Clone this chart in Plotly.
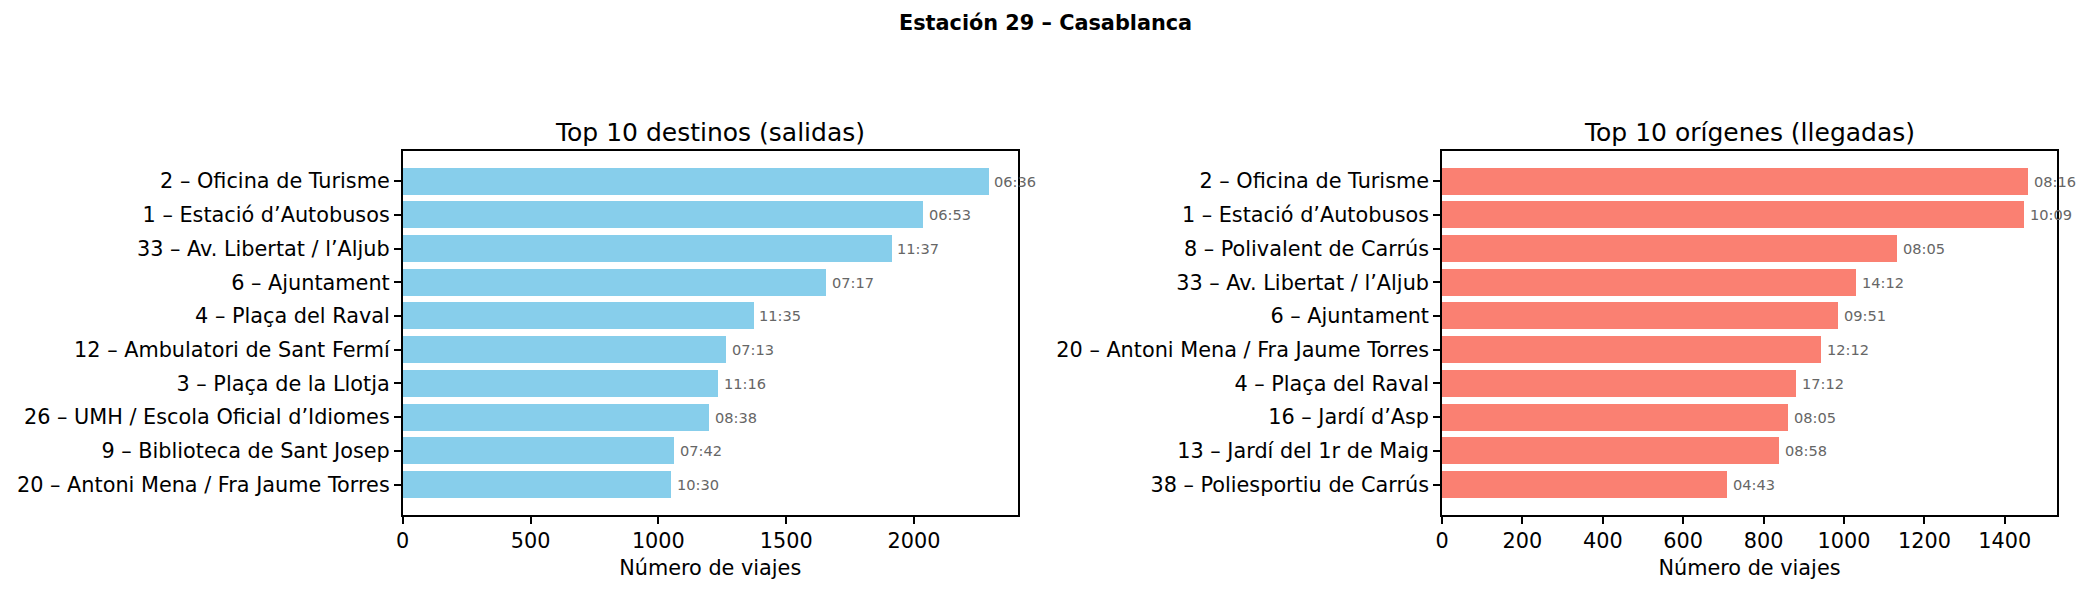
import plotly.graph_objects as go

W, H = 2090, 594

suptitle = "Estación 29 – Casablanca"
title_left = "Top 10 destinos (salidas)"
title_right = "Top 10 orígenes (llegadas)"
xlabel = "Número de viajes"

dest_names = [
    "2 – Oficina de Turisme",
    "1 – Estació d’Autobusos",
    "33 – Av. Libertat / l’Aljub",
    "6 – Ajuntament",
    "4 – Plaça del Raval",
    "12 – Ambulatori de Sant Fermí",
    "3 – Plaça de la Llotja",
    "26 – UMH / Escola Oficial d’Idiomes",
    "9 – Biblioteca de Sant Josep",
    "20 – Antoni Mena / Fra Jaume Torres",
]
dest_counts = [2291, 2034, 1911, 1654, 1372, 1263, 1232, 1198, 1060, 1049]
dest_times = ["06:36", "06:53", "11:37", "07:17", "11:35", "07:13", "11:16", "08:38", "07:42", "10:30"]

orig_names = [
    "2 – Oficina de Turisme",
    "1 – Estació d’Autobusos",
    "8 – Polivalent de Carrús",
    "33 – Av. Libertat / l’Aljub",
    "6 – Ajuntament",
    "20 – Antoni Mena / Fra Jaume Torres",
    "4 – Plaça del Raval",
    "16 – Jardí d’Asp",
    "13 – Jardí del 1r de Maig",
    "38 – Poliesportiu de Carrús",
]
orig_counts = [1457, 1448, 1132, 1030, 986, 943, 881, 861, 838, 709]
orig_times = ["08:16", "10:09", "08:05", "14:12", "09:51", "12:12", "17:12", "08:05", "08:58", "04:43"]

FONT = "DejaVu Sans"
px_x = lambda p: p / W
px_y = lambda p: 1 - p / H

fig = go.Figure()
fig.add_trace(go.Bar(x=dest_counts, y=dest_names, orientation="h", width=0.8,
                     marker=dict(color="#87CEEB", line=dict(width=0)),
                     xaxis="x", yaxis="y", hoverinfo="skip", showlegend=False))
fig.add_trace(go.Bar(x=orig_counts, y=orig_names, orientation="h", width=0.8,
                     marker=dict(color="#FA8072", line=dict(width=0)),
                     xaxis="x2", yaxis="y2", hoverinfo="skip", showlegend=False))

annotations = []
for names, counts, times, xr, yr in [(dest_names, dest_counts, dest_times, "x", "y"),
                                      (orig_names, orig_counts, orig_times, "x2", "y2")]:
    for n, c, t in zip(names, counts, times):
        annotations.append(dict(x=c, y=n, xref=xr, yref=yr, text=t, showarrow=False,
                                xanchor="left", yanchor="middle", xshift=4,
                                font=dict(family=FONT, size=14.6, color="#666666")))

axis_common = dict(showline=True, mirror=True, linecolor="black", linewidth=1.6,
                   ticks="outside", ticklen=7, tickwidth=1.6, tickcolor="black",
                   showgrid=False, zeroline=False,
                   tickfont=dict(family=FONT, size=20.8, color="black"))

left_dom = [px_x(402.7), px_x(1017.7)]
right_dom = [px_x(1442), px_x(2057)]
y_dom = [px_y(514.7), px_y(151)]

fig.update_layout(
    width=W, height=H,
    margin=dict(l=0, r=0, t=0, b=0),
    paper_bgcolor="white", plot_bgcolor="white",
    bargap=0,
    font=dict(family=FONT, color="black"),
    xaxis=dict(domain=left_dom, anchor="y", range=[0, max(dest_counts) * 1.05],
               tickmode="linear", tick0=0, dtick=500, automargin=False,
               title=dict(text=xlabel, font=dict(family=FONT, size=20.8, color="black"), standoff=8),
               **axis_common),
    yaxis=dict(domain=y_dom, anchor="x", type="category",
               range=[len(dest_names) - 1 + 0.89, -0.89], automargin=False, **axis_common),
    xaxis2=dict(domain=right_dom, anchor="y2", range=[0, max(orig_counts) * 1.05],
                tickmode="linear", tick0=0, dtick=200, automargin=False,
                title=dict(text=xlabel, font=dict(family=FONT, size=20.8, color="black"), standoff=8),
                **axis_common),
    yaxis2=dict(domain=y_dom, anchor="x2", type="category",
                range=[len(orig_names) - 1 + 0.89, -0.89], automargin=False, **axis_common),
)

annotations += [
    dict(text="<b>" + suptitle + "</b>", x=0.5, y=px_y(23), xref="paper", yref="paper",
         showarrow=False, xanchor="center", yanchor="middle",
         font=dict(family=FONT, size=20.8, color="black")),
    dict(text=title_left, x=(left_dom[0] + left_dom[1]) / 2, y=px_y(132), xref="paper", yref="paper",
         showarrow=False, xanchor="center", yanchor="middle",
         font=dict(family=FONT, size=25, color="black")),
    dict(text=title_right, x=(right_dom[0] + right_dom[1]) / 2, y=px_y(132), xref="paper", yref="paper",
         showarrow=False, xanchor="center", yanchor="middle",
         font=dict(family=FONT, size=25, color="black")),
]
fig.update_layout(annotations=annotations)

fig.write_html("out.html")
